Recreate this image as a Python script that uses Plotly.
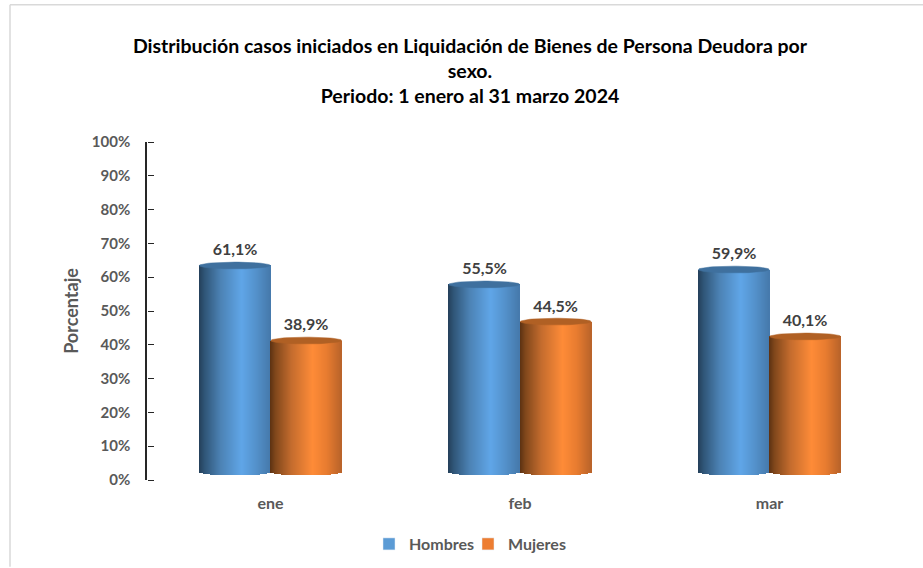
import numpy as np
import plotly.graph_objects as go

categories = ["ene", "feb", "mar"]
hombres = [61.1, 55.5, 59.9]
mujeres = [38.9, 44.5, 40.1]
y_ticks = list(range(0, 101, 10))
y_tick_labels = [f"{v}%" for v in y_ticks]

W, H = 923, 568
L, R, T, B = 147, 894, 141.5, 480
UNIT_X = 249.5
UNIT_Y = (B - T) / 100
BAR_W = 71 / UNIT_X
LIFT = 8 / UNIT_Y          # the 3D bars float above the zero line
RY = 3.4 / UNIT_Y          # vertical radius of end ellipses
STRIPS = 71
FONT = "Lato, 'Open Sans', sans-serif"

STOPS = [0, 0.08, 0.3, 0.6, 0.8, 1]
BLUE = [(36, 64, 90), (48, 86, 120), (76, 130, 180), (96, 166, 232), (84, 146, 204), (70, 122, 172)]
ORANGE = [(92, 50, 18), (130, 72, 28), (196, 108, 46), (255, 140, 56), (232, 124, 48), (186, 100, 42)]


def shade(stops, t):
    return "rgb(%d,%d,%d)" % tuple(np.interp(t, STOPS, [c[i] for c in stops]) for i in range(3))


def cylinder(values, side, stops, cap_color, name):
    ts = (np.arange(STRIPS) + 0.5) / STRIPS
    xs, base, h, cols, cap_x, cap_y = [], [], [], [], [], []
    angles = np.linspace(0, 2 * np.pi, 61)
    for i, v in enumerate(values):
        cx = i + side * BAR_W / 2 + side * 0.001
        for t in ts:
            xs.append(cx + (t - 0.5) * BAR_W)
            bot = LIFT - RY * np.sqrt(1 - (2 * t - 1) ** 2)
            base.append(bot)
            h.append(v + LIFT - bot)
            cols.append(shade(stops, t))
        cap_x += list(cx + BAR_W / 2 * np.cos(angles)) + [None]
        cap_y += list(v + LIFT + RY * np.sin(angles)) + [None]
    body = go.Bar(x=xs, y=h, base=base, width=BAR_W / STRIPS, marker=dict(color=cols, line_width=0),
                  name=name, showlegend=False, hoverinfo="skip")
    cap = go.Scatter(x=cap_x, y=cap_y, mode="lines", fill="toself", fillcolor=cap_color,
                     line=dict(width=0.5, color=cap_color), showlegend=False, hoverinfo="skip")
    return [body, cap]


def labels(values, side):
    return go.Scatter(
        x=[i + side * BAR_W / 2 for i in range(len(values))],
        y=[v + LIFT + RY + 0.8 for v in values],
        text=[f"{v:.1f}%".replace(".", ",") for v in values],
        mode="text", textposition="top center",
        textfont=dict(family=FONT, size=16, color="#404040", weight="bold"),
        showlegend=False, hoverinfo="skip",
    )


fig = go.Figure()
for tr in cylinder(hombres, -1, BLUE, "#3f709e", "Hombres") + cylinder(mujeres, 1, ORANGE, "#b06024", "Mujeres"):
    fig.add_trace(tr)
fig.add_trace(labels(hombres, -1))
fig.add_trace(labels(mujeres, 1))
fig.add_trace(go.Bar(x=[None], y=[None], name="Hombres", marker_color="#5b9bd5"))
fig.add_trace(go.Bar(x=[None], y=[None], name="Mujeres", marker_color="#ed7d31"))
# carries the right-pointing tick marks on the left axis line
fig.add_trace(go.Scatter(x=[None], y=[None], yaxis="y2", showlegend=False, hoverinfo="skip"))

fig.update_layout(
    width=W, height=H, barmode="overlay", bargap=0,
    margin=dict(l=L, r=W - R, t=T, b=H - B, pad=0, autoexpand=False),
    paper_bgcolor="white", plot_bgcolor="white",
    font=dict(family=FONT, size=15, color="#595959", weight="bold"),
    title=dict(
        text="Distribución casos iniciados en Liquidación de Bienes de Persona Deudora por<br>sexo.<br>Periodo: 1 enero al 31 marzo 2024",
        x=470 / W, xanchor="center", y=1 - 52.5 / H, yanchor="top",
        font=dict(family=FONT, size=19.5, color="#000000", weight="bold"),
    ),
    xaxis=dict(
        range=[-(270.5 - L) / UNIT_X, (R - 270.5) / UNIT_X],
        tickmode="array", tickvals=list(range(len(categories))), ticktext=categories,
        showgrid=False, zeroline=False, showline=False,
        ticks="outside", ticklen=9, tickcolor="rgba(0,0,0,0)", tickfont=dict(size=16),
    ),
    yaxis=dict(
        range=[0, 100], tickmode="array", tickvals=y_ticks, ticktext=y_tick_labels,
        showgrid=False, zeroline=False, showline=True, linecolor="#262626", linewidth=1.5,
        ticks="", ticklabelstandoff=12,
        title=dict(text="Porcentaje", standoff=9),
    ),
    yaxis2=dict(
        range=[0, 100], tickmode="array", tickvals=y_ticks, overlaying="y", side="right",
        anchor="free", position=0, showticklabels=False, showgrid=False, zeroline=False,
        showline=False, ticks="outside", ticklen=6, tickcolor="#262626", tickwidth=1,
    ),
    legend=dict(
        orientation="h", x=369 / W, xanchor="left", y=1 - 527 / H, yanchor="top",
        yref="container", xref="container", font=dict(family=FONT, size=16, color="#595959", weight="bold"),
        itemwidth=30, entrywidth=54, entrywidthmode="pixels",
    ),
    shapes=[
        dict(type="line", xref="paper", yref="paper", x0=(10 - L) / (R - L), x1=(W + 5 - L) / (R - L),
             y0=(B - 4) / (B - T), y1=(B - 4) / (B - T), line=dict(color="#d9d9d9", width=1.5)),
        dict(type="line", xref="paper", yref="paper", x0=(10 - L) / (R - L), x1=(10 - L) / (R - L),
             y0=(B - 4) / (B - T), y1=(B - 567) / (B - T), line=dict(color="#d9d9d9", width=1.5)),
    ],
)
fig.write_html("out.html", config={"displayModeBar": False}, post_script="document.body.style.margin='0';")
